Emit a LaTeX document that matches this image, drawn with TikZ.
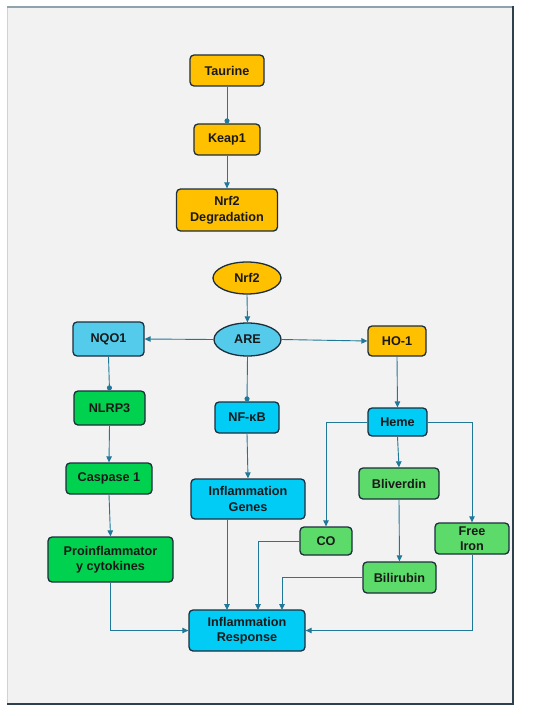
\documentclass[tikz,border=0pt]{standalone}
\usepackage{fontspec}
\setmainfont{Liberation Sans}
\usetikzlibrary{arrows.meta,shapes.geometric}
\definecolor{bgc}{HTML}{F2F2F2}
\definecolor{yel}{HTML}{FFC000}
\definecolor{lblue}{HTML}{55CBEB}
\definecolor{cyanb}{HTML}{00CCF5}
\definecolor{dgreen}{HTML}{00D14F}
\definecolor{lgreen}{HTML}{5CDB6A}
\definecolor{bord}{HTML}{1C2E3C}
\definecolor{conn}{HTML}{1F7898}
\definecolor{frtop}{HTML}{8FA3AD}
\definecolor{frdark}{HTML}{2E404B}
\definecolor{frleft}{HTML}{CDD3D6}
\begin{document}
\begin{tikzpicture}[x=1bp,y=-1bp,
  box/.style={draw=bord, line width=1.3bp, rounded corners=4bp, align=center, inner sep=0pt,
    font=\fontsize{12.7}{15.6}\selectfont\bfseries, text=black!90},
  oval/.style={draw=bord, line width=1.3bp, ellipse, align=center, inner sep=0pt,
    font=\fontsize{12.7}{15.6}\selectfont\bfseries, text=black!90},
  arr/.style={draw=conn, line width=0.9bp, -{Triangle[length=6bp,width=5.5bp]}},
  dotc/.style={draw=conn, line width=0.9bp, -{Circle[length=5bp]}}]
\useasboundingbox (0,0) rectangle (550,716);
\fill[white] (0,0) rectangle (550,716);
\fill[bgc] (7,6) rectangle (513,704);
\draw[frleft, line width=1bp] (7.5,6) -- (7.5,704);
\draw[frtop, line width=2bp] (7,7) -- (513,7);
\draw[frdark, line width=2bp] (513,6) -- (513,704) -- (7,704);
% top chain
\node[box, fill=yel, minimum width=74bp, minimum height=31bp] (tau) at (227,70.5) {Taurine};
\node[box, fill=yel, minimum width=66bp, minimum height=31bp] (keap) at (227,139.5) {Keap1};
\node[box, fill=yel, minimum width=101bp, minimum height=42bp] (deg) at (227,210) {Nrf2\\Degradation};
% middle
\node[oval, fill=yel, minimum width=68bp, minimum height=32bp] (nrf) at (247,278) {Nrf2};
\node[oval, fill=lblue, minimum width=67bp, minimum height=33bp] (are) at (247.5,339.5) {ARE};
\node[box, fill=lblue, minimum width=71bp, minimum height=34bp] (nqo) at (108.5,339) {NQO1};
\node[box, fill=yel, minimum width=58bp, minimum height=30bp] (ho) at (397,341) {HO-1};
\node[box, fill=dgreen, minimum width=71bp, minimum height=34bp] (nlrp) at (109.5,408) {NLRP3};
\node[box, fill=cyanb, minimum width=64bp, minimum height=31bp] (nfkb) at (247,417.5) {NF-\symbol{"03BA}B};
\node[box, fill=cyanb, minimum width=59bp, minimum height=28bp] (heme) at (397.5,422) {Heme};
\node[box, fill=dgreen, minimum width=86bp, minimum height=31bp] (casp) at (109,478.5) {Caspase 1};
\node[box, fill=cyanb, minimum width=114bp, minimum height=40bp] (genes) at (248,499) {Inflammation\\Genes};
\node[box, fill=lgreen, minimum width=80bp, minimum height=31bp] (bliv) at (399,483.5) {Bliverdin};
\node[box, fill=lgreen, minimum width=52bp, minimum height=28bp] (co) at (326,541) {CO};
\node[box, fill=lgreen, minimum width=74bp, minimum height=31bp] (iron) at (472,538.5) {Free\\Iron};
\node[box, fill=dgreen, minimum width=125bp, minimum height=45bp] (pro) at (110.5,559.5) {Proinflammator\\y cytokines};
\node[box, fill=lgreen, minimum width=73bp, minimum height=31bp] (bili) at (399.5,577.5) {Bilirubin};
\node[box, fill=cyanb, minimum width=116bp, minimum height=41bp] (ir) at (247,630.5) {Inflammation\\Response};
% coordinates
\coordinate (gtop) at (227,519);
\coordinate (gbot) at (227,610);
\coordinate (cox) at (258,610);
\coordinate (bilx) at (282,610);
% connectors
\draw[dotc] (tau.south) -- (keap.north);
\draw[arr] (keap.south) -- (deg.north);
\draw[arr] (nrf.south) -- (are.north);
\draw[arr] (are.west) -- (nqo.east);
\draw[arr] (are.east) -- (ho.west);
\draw[dotc] (nqo.south) -- (nlrp.north);
\draw[dotc] (are.south) -- (nfkb.north);
\draw[arr] (nlrp.south) -- (casp.north);
\draw[arr] (casp.south) -- (pro.north);
\draw[arr] (nfkb.south) -- (genes.north);
\draw[arr] (ho.south) -- (heme.north);
\draw[arr] (heme.west) -| (co.north);
\draw[arr] (heme.south) -- (bliv.north);
\draw[arr] (heme.east) -| (iron.north);
\draw[arr] (bliv.south) -- (bili.north);
\draw[arr] (gtop) -- (gbot);
\draw[arr] (co.west) -| (cox);
\draw[arr] (bili.west) -| (bilx);
\draw[arr] (pro.south) |- (ir.west);
\draw[arr] (iron.south) |- (ir.east);
\end{tikzpicture}
\end{document}
